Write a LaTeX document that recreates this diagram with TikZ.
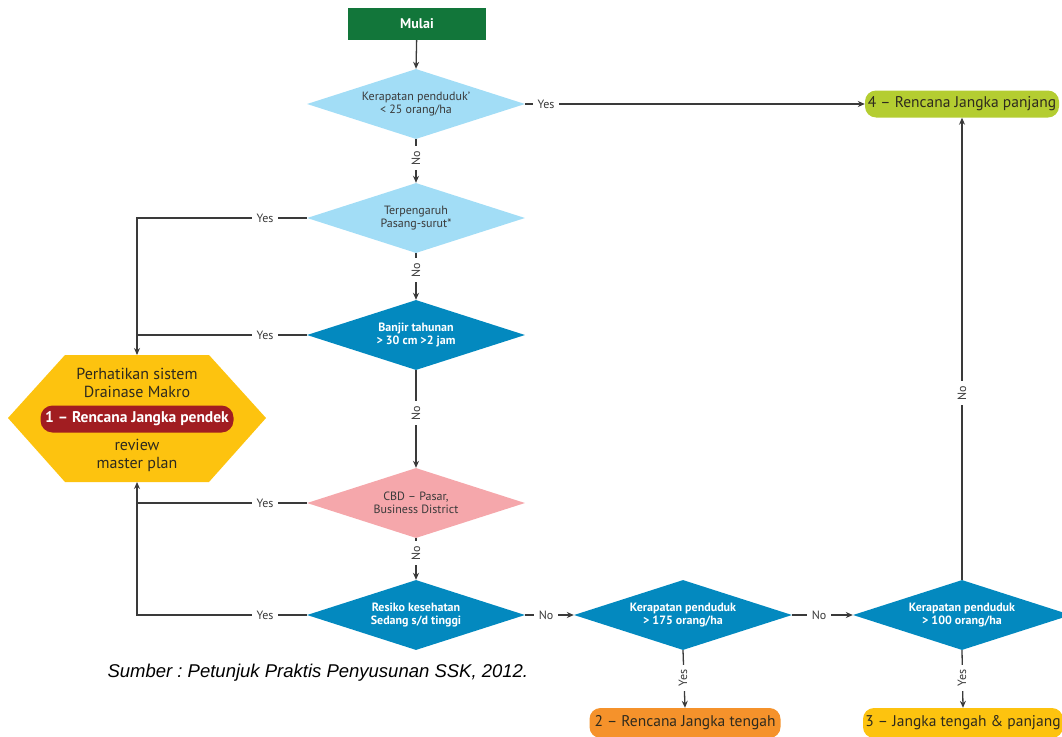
\documentclass[tikz,border=0pt]{standalone}
\usepackage{fontspec}
\setmainfont{PT Sans}
\newfontfamily\srcfont{Liberation Sans}
\usetikzlibrary{shapes.geometric,arrows.meta}

\definecolor{startgreen}{HTML}{12763A}
\definecolor{lightblue}{HTML}{A2DDF6}
\definecolor{deepblue}{HTML}{0389BF}
\definecolor{softpink}{HTML}{F5A7AB}
\definecolor{amber}{HTML}{FDC30F}
\definecolor{darkred}{HTML}{A11D21}
\definecolor{orangebox}{HTML}{F5922B}
\definecolor{limebox}{HTML}{B4CD31}
\definecolor{linegray}{HTML}{3A3A3A}
\definecolor{inkdark}{HTML}{2E2A1E}

\tikzset{
  decision/.style={diamond, shape aspect=3.1, minimum width=218pt, minimum height=70pt, inner sep=0pt,
    align=center, font=\fontsize{12}{13.5}\selectfont},
  lightdec/.style={decision, fill=lightblue, text=linegray},
  darkdec/.style={decision, fill=deepblue, text=white, font=\fontsize{12}{13.5}\selectfont\bfseries},
  pinkdec/.style={decision, fill=softpink, text=linegray},
  outcome/.style={rounded corners=11pt, minimum height=27pt, inner xsep=2pt, inner ysep=0pt,
    text=inkdark, font=\fontsize{15.5}{16}\selectfont},
  flow/.style={draw=linegray, line width=1.3pt},
  arrowflow/.style={flow, -{Stealth[length=7pt,width=6pt]}},
  lbl/.style={fill=white, inner xsep=5pt, inner ysep=1pt, text=linegray, font=\fontsize{12}{13}\selectfont},
  hextext/.style={align=center, text=inkdark, font=\fontsize{16}{18}\selectfont},
}

\begin{document}
\frenchspacing
\begin{tikzpicture}[x=1pt,y=-1pt]
\useasboundingbox (0,0) rectangle (1062,736);
\clip (0,0) rectangle (1062,736);

% start box
\node[fill=startgreen, minimum width=138pt, minimum height=32pt, text=white,
  font=\fontsize{14}{15}\selectfont\bfseries] (start) at (417,24) {Mulai};

% decisions in the main column
\node[lightdec] (d1) at (416,104) {Kerapatan penduduk'\\< 25 orang/ha};
\node[lightdec] (d2) at (416,218) {Terpengaruh\\Pasang-surut*};
\node[darkdec]  (d3) at (416,335) {Banjir tahunan\\> 30 cm >2 jam};
\node[pinkdec]  (d4) at (416,503) {CBD – Pasar,\\Business District};
\node[darkdec]  (d5) at (416,615) {Resiko kesehatan\\Sedang s/d tinggi};
\node[darkdec]  (d6) at (683,615) {Kerapatan penduduk\\> 175 orang/ha};
\node[darkdec]  (d7) at (962,615) {Kerapatan penduduk\\> 100 orang/ha};

% outcomes
\node[outcome, fill=limebox, minimum width=194pt] (o4) at (962,104) {4 – Rencana Jangka panjang};
\node[outcome, fill=orangebox, minimum width=191pt, minimum height=30pt] (o2) at (685,723) {2 – Rencana Jangka tengah};
\node[outcome, fill=amber, minimum width=200pt, minimum height=30pt] (o3) at (963,723) {3 – Jangka tengah \& panjang};

% short-term hexagon
\fill[amber] (65,355) -- (209,355) -- (266,418) -- (209,482) -- (65,482) -- (8,418) -- cycle;
\coordinate (hextop) at (137,355);
\coordinate (hexbot) at (137,482);
\node[hextext] (hexA) at (137,383) {Perhatikan sistem\\Drainase Makro};
\node[fill=darkred, rounded corners=12pt, minimum width=193pt, minimum height=27pt, inner sep=0pt,
  text=white, font=\fontsize{15.5}{16}\selectfont\bfseries] (short) at (137,419) {1 – Rencana Jangka pendek};
\node[hextext] (hexB) at (137,455) {review\\master plan};

% junction points on the left return line
\coordinate (j2) at (137,218);
\coordinate (j3) at (137,335);
\coordinate (j4) at (137,503);
\coordinate (j5) at (137,615);

% connectors
\draw[arrowflow] (start) -- (d1.north);
\draw[arrowflow] (d1.east) -- (o4.west);
\draw[arrowflow] (d1.south) -- (d2.north);
\draw[arrowflow] (d2.south) -- (d3.north);
\draw[arrowflow] (d3.south) -- (d4.north);
\draw[arrowflow] (d4.south) -- (d5.north);
\draw[arrowflow] (d2.west) -- (j2) -- (hextop);
\draw[flow] (d3.west) -- (j3);
\draw[arrowflow] (d5.west) -- (j5) -- (hexbot);
\draw[flow] (d4.west) -- (j4);
\draw[arrowflow] (d5.east) -- (d6.west);
\draw[arrowflow] (d6.east) -- (d7.west);
\draw[arrowflow] (d7.north) -- (o4.south);
\draw[arrowflow] (d6.south) -- (o2.north);
\draw[arrowflow] (d7.south) -- (o3.north);

% connector labels
\node[lbl] (y1) at (546,104) {Yes};
\node[lbl, rotate=90] (n1) at (416,158) {No};
\node[lbl] (y2) at (265,218) {Yes};
\node[lbl, rotate=90] (n2) at (416,270) {No};
\node[lbl] (y3) at (265,335) {Yes};
\node[lbl, rotate=90] (n3) at (416,413) {No};
\node[lbl] (y4) at (265,503) {Yes};
\node[lbl, rotate=90] (n4) at (416,553) {No};
\node[lbl] (y5) at (265,615) {Yes};
\node[lbl] (n5) at (546,615) {No};
\node[lbl] (n6) at (819,615) {No};
\node[lbl, rotate=90] (n7) at (962,393) {No};
\node[lbl, rotate=90] (y6) at (683,678) {Yes};
\node[lbl, rotate=90] (y7) at (962,678) {Yes};

% source note
\node[anchor=west, text=black, font=\srcfont\itshape\fontsize{18.5}{20}\selectfont] (src) at (104,673)
  {Sumber : Petunjuk Praktis Penyusunan SSK, 2012.};
\end{tikzpicture}
\end{document}
